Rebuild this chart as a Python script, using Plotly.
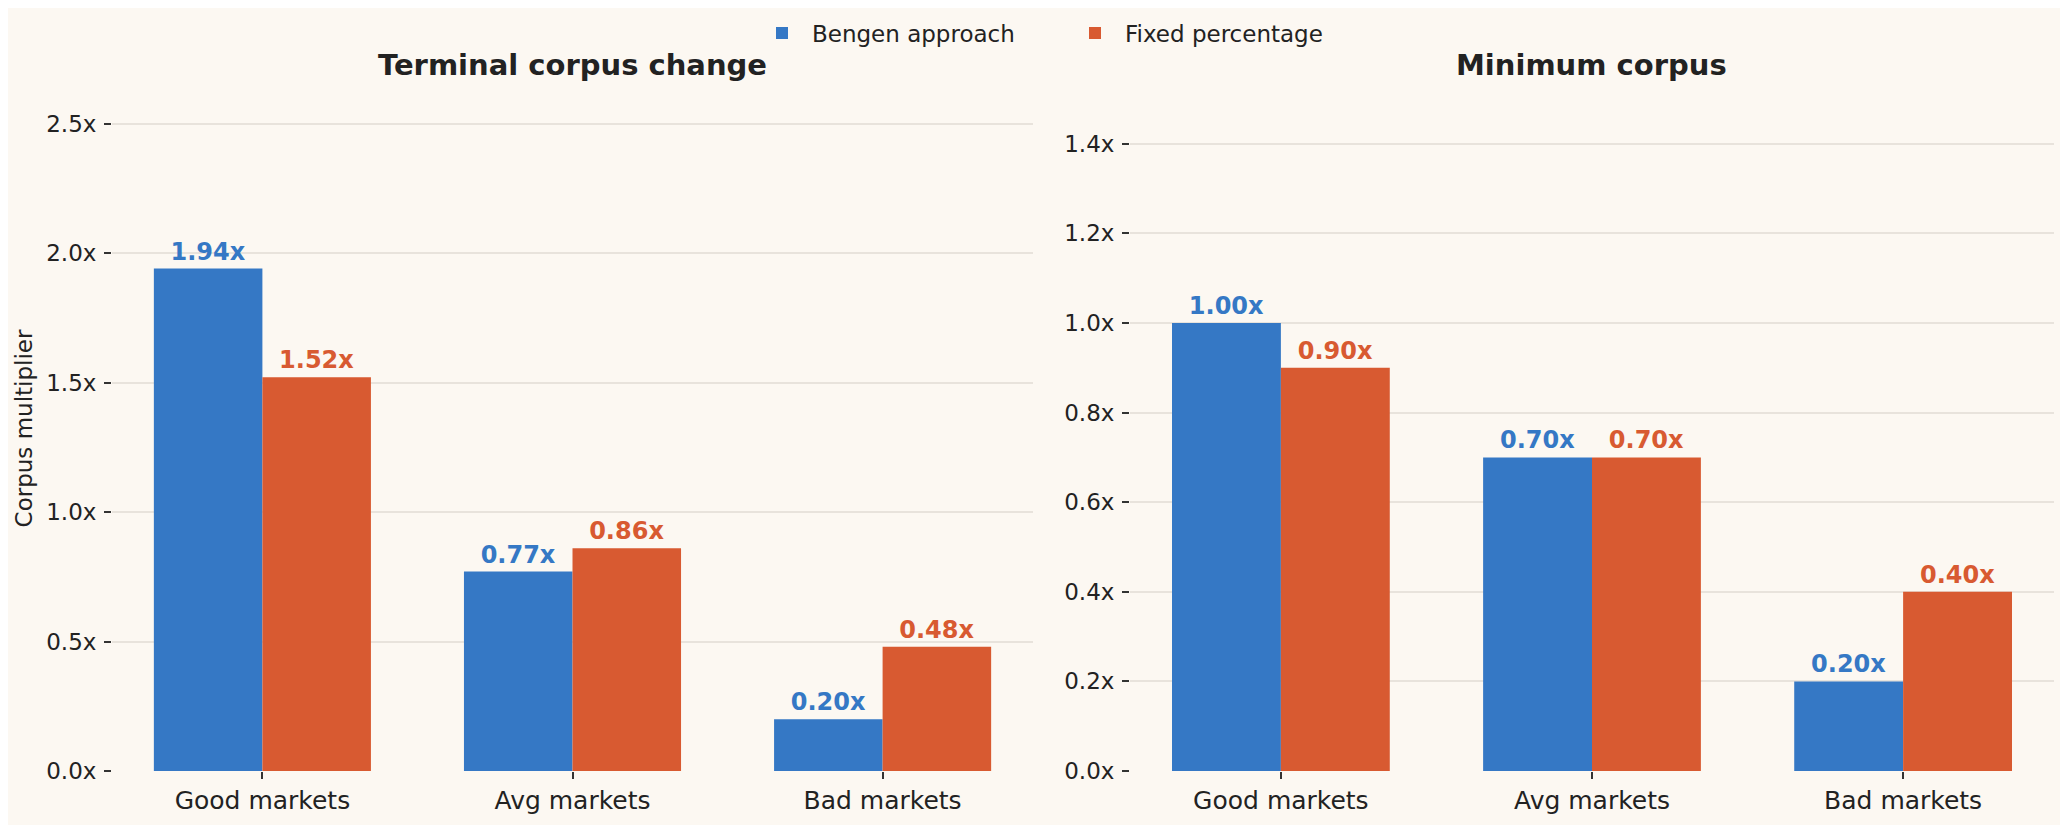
import plotly.graph_objects as go
from plotly.subplots import make_subplots

# data
markets = ["Good markets", "Avg markets", "Bad markets"]
terminal_bengen = [1.94, 0.77, 0.20]
terminal_fixed = [1.52, 0.86, 0.48]
minimum_bengen = [1.00, 0.70, 0.20]
minimum_fixed = [0.90, 0.70, 0.40]

BLUE = "#3578C5"
ORANGE = "#D85A31"
BG = "#FCF8F2"
GRID = "#E8E3DC"
TEXT = "#222222"
FONT = "DejaVu Sans"

# page body adds ~8px offset, margins compensate for that
W, H = 2068, 825
L, R, T, B = 104, 22, 78, 62
pw = W - L - R
ph = H - T - B

fig = make_subplots(rows=1, cols=2)

panels = [
    (1, terminal_bengen, terminal_fixed, True),
    (2, minimum_bengen, minimum_fixed, False),
]
for col, bengen, fixed, show in panels:
    fig.add_trace(go.Bar(
        x=markets, y=bengen, name="Bengen approach",
        marker=dict(color=BLUE, line=dict(width=0)),
        texttemplate="%{y:.2f}x", textposition="outside",
        textfont=dict(family=FONT, size=24, color=BLUE, weight="bold"),
        constraintext="none", cliponaxis=False,
        showlegend=show, legendgroup="b",
    ), row=1, col=col)
    fig.add_trace(go.Bar(
        x=markets, y=fixed, name="Fixed percentage",
        marker=dict(color=ORANGE, line=dict(width=0)),
        texttemplate="%{y:.2f}x", textposition="outside",
        textfont=dict(family=FONT, size=24, color=ORANGE, weight="bold"),
        constraintext="none", cliponaxis=False,
        showlegend=show, legendgroup="f",
    ), row=1, col=col)

xcommon = dict(
    range=[-0.485, 2.485], showgrid=False, zeroline=False, showline=False,
    ticks="outside", ticklen=7, tickwidth=1.5, tickcolor="#333333",
    tickfont=dict(family=FONT, size=25, color=TEXT),
)
ycommon = dict(
    showgrid=True, gridcolor=GRID, gridwidth=1.5, zeroline=False, showline=False,
    ticks="outside", ticklen=7, tickwidth=1.5, tickcolor="#333333",
    tickfont=dict(family=FONT, size=23, color=TEXT),
    ticksuffix="x", tickformat=".1f", ticklabelstandoff=3,
)

fig.update_xaxes(domain=[0, 921 / pw], **xcommon, row=1, col=1)
fig.update_xaxes(domain=[(1130 - 8 - L) / pw, 1], **xcommon, row=1, col=2)
fig.update_yaxes(range=[0, ph / 259.0], dtick=0.5, **ycommon,
                 title=dict(text="Corpus multiplier",
                            font=dict(family=FONT, size=23, color=TEXT),
                            standoff=7),
                 row=1, col=1)
fig.update_yaxes(range=[0, ph / 448.0], dtick=0.2, **ycommon, row=1, col=2)

titles = [("Terminal corpus change", (0 + 921 / pw) / 2),
          ("Minimum corpus", ((1130 - 8 - L) / pw + 1) / 2)]
for txt, xc in titles:
    fig.add_annotation(
        text=txt, xref="paper", yref="paper", x=xc, y=1 + (T + 8 - 65) / ph,
        xanchor="center", yanchor="middle", showarrow=False,
        font=dict(family=FONT, size=29, color=TEXT, weight="bold"),
    )

fig.update_layout(
    width=W, height=H,
    margin=dict(l=L, r=R, t=T, b=B, autoexpand=False),
    paper_bgcolor=BG, plot_bgcolor=BG,
    barmode="group", bargap=0.3, bargroupgap=0,
    font=dict(family=FONT, color=TEXT),
    legend=dict(
        orientation="h", x=(752 - 8 - L) / pw, xanchor="left",
        y=1 + (T + 8 - 33) / ph, yanchor="middle",
        font=dict(family=FONT, size=23, color=TEXT),
        bgcolor="rgba(0,0,0,0)", itemwidth=50, entrywidth=248,
    ),
)

fig.write_html("out.html")
